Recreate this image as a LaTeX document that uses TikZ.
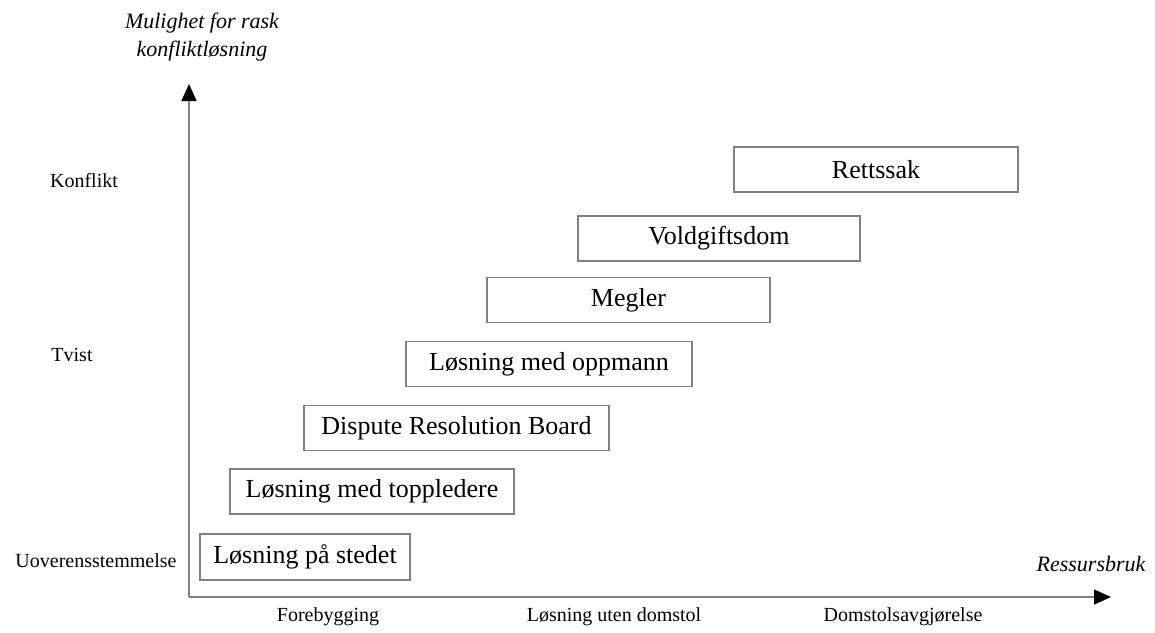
\documentclass[tikz,border=0pt]{standalone}
\usepackage{fontspec}
\setmainfont{Liberation Serif}
\usetikzlibrary{arrows.meta}

\begin{document}
\begin{tikzpicture}[x=1pt,y=-1pt,
  stagebox/.style={draw=black!50, line width=1.5pt, fill=white, inner sep=0pt,
    minimum height=45pt, font=\fontsize{26}{30}\selectfont},
  axisline/.style={draw=black!50, line width=1.5pt,
    -{Triangle[length=17pt,width=15pt,color=black]}},
  lbl/.style={inner sep=0pt, font=\fontsize{20}{24}\selectfont},
  axlbl/.style={inner sep=0pt, align=center, font=\fontsize{22}{28}\selectfont\itshape}
]
\useasboundingbox (0,0) rectangle (1155,632);

% axes
\coordinate (origin) at (189,597);
\coordinate (ytip) at (189,84);
\coordinate (xtip) at (1111,597);
\draw[axisline] (origin) -- (ytip);
\draw[axisline] (origin) -- (xtip);

% axis titles
\node[axlbl] (ytitle) at (202,37) {Mulighet for rask\\konfliktløsning};
\node[axlbl] (xtitle) at (1091,564) {Ressursbruk};

% levels on the vertical axis
\node[lbl] (konflikt) at (84,181) {Konflikt};
\node[lbl] (tvist) at (72,355) {Tvist};
\node[lbl] (uoverens) at (96,561) {Uoverensstemmelse};

% phases on the horizontal axis
\node[lbl] (forebygging) at (328,617) {Forebygging};
\node[lbl] (utendomstol) at (614,617) {Løsning uten domstol};
\node[lbl] (domstol) at (903,617) {Domstolsavgjørelse};

% resolution methods
\node[stagebox, minimum width=210pt, minimum height=46pt] (stedet) at (305,557) {Løsning på stedet};
\node[stagebox, minimum width=284pt] (toppledere) at (372,491.5) {Løsning med toppledere};
\node[stagebox, minimum width=305pt] (drb) at (456.5,428) {Dispute Resolution Board};
\node[stagebox, minimum width=286pt] (oppmann) at (549,364) {Løsning med oppmann};
\node[stagebox, minimum width=283pt] (megler) at (628.5,300) {Megler};
\node[stagebox, minimum width=282pt] (voldgift) at (719,238.5) {Voldgiftsdom};
\node[stagebox, minimum width=284pt] (rettssak) at (876,169.5) {Rettssak};
\end{tikzpicture}
\end{document}
